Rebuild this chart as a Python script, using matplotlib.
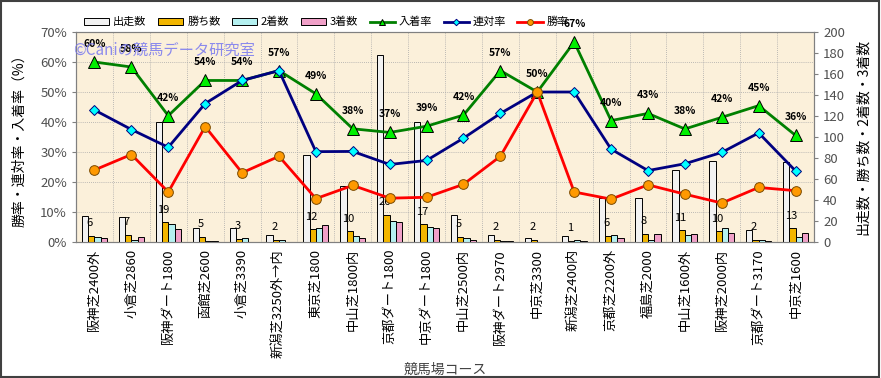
import matplotlib.pyplot as plt
import numpy as np
from matplotlib.ticker import FixedLocator

plt.rcParams['font.family'] = ['Noto Sans CJK JP', 'DejaVu Sans']

courses = ['阪神芝2400外', '小倉芝2860', '阪神ダート1800', '函館芝2600', '小倉芝3390',
           '新潟芝3250外→内', '東京芝1800', '中山芝1800内', '京都ダート1800', '中京ダート1800',
           '中山芝2500内', '阪神ダート2970', '中京芝3300', '新潟芝2400内', '京都芝2200外',
           '福島芝2000', '中山芝1600外', '阪神芝2000内', '京都ダート3170', '中京芝1600']
runs   = [25, 24, 114, 13, 13, 7, 83, 53, 178, 114, 26, 7, 4, 6, 42, 42, 69, 77, 11, 76]
wins   = [6, 7, 19, 5, 3, 2, 12, 10, 26, 17, 5, 2, 2, 1, 6, 8, 11, 10, 2, 13]
second = [5, 2, 17, 1, 4, 2, 13, 6, 20, 14, 4, 1, 0, 2, 7, 2, 7, 13, 2, 5]
third  = [4, 5, 12, 1, 0, 0, 16, 4, 19, 13, 2, 1, 0, 1, 4, 8, 8, 9, 1, 9]

runs_a = np.array(runs, float)
win_rate = np.array(wins) / runs_a * 100
ren_rate = (np.array(wins) + np.array(second)) / runs_a * 100
in_rate = (np.array(wins) + np.array(second) + np.array(third)) / runs_a * 100

fig = plt.figure(figsize=(8.81, 3.78), dpi=100)
fig.patches.append(plt.Rectangle((0.001, 0.002), 0.997, 0.995, transform=fig.transFigure,
                                 fill=False, edgecolor='#404040', linewidth=1.5))
ax = fig.add_axes([0.0863, 0.3598, 0.8377, 0.5555])
ax2 = ax.twinx()
ax.set_facecolor('#FBF0DA')

# bars (counts) on the right axis
x = np.arange(len(courses))
w = 0.17
bar_kw = dict(edgecolor='black', linewidth=0.7, zorder=3)
ax.bar(x - 1.5 * w, runs, w, color='#F2F2F2', label='出走数', **bar_kw)
ax.bar(x - 0.5 * w, wins, w, color='#F2B600', label='勝ち数', **bar_kw)
ax.bar(x + 0.5 * w, second, w, color='#B4F0F0', label='2着数', **bar_kw)
ax.bar(x + 1.5 * w, third, w, color='#F0A0C8', label='3着数', **bar_kw)
for xi, v in zip(x, wins):
    ax.annotate(str(v), (xi - 0.5 * w, v), xytext=(-1, 9), textcoords='offset points',
                ha='center', va='center', fontsize=8, zorder=4)

ax.set_xlim(-0.5, len(courses) - 0.5)
ax.set_ylim(0, 200)
ax.yaxis.tick_right()
ax.yaxis.set_label_position('right')
ax.set_yticks(np.arange(0, 201, 20))
ax.yaxis.set_minor_locator(FixedLocator(np.arange(0, 201, 200 / 7)))
ax.set_xticks(x)
ax.set_xticklabels(courses, rotation=90, fontsize=9.5, va='top')
ax.xaxis.set_minor_locator(FixedLocator(np.arange(0.5, len(courses) - 0.5, 1)))
ax.grid(which='minor', color='#A8A8A8', linestyle=(0, (1, 1.5)), linewidth=0.6, zorder=0)
ax.tick_params(axis='x', which='both', length=0, pad=5)
ax.tick_params(axis='y', which='minor', length=0)
ax.tick_params(axis='y', which='major', length=3, labelsize=9.5, labelcolor='#505050', color='#808080')
ax.set_ylabel('出走数・勝ち数・2着数・3着数', fontsize=10, rotation=90, labelpad=8)
ax.set_xlabel('競馬場コース', fontsize=10, color='#404040', labelpad=4)
for s in ax.spines.values():
    s.set_color('#808080')

# rates on the left axis
ax2.yaxis.tick_left()
ax2.yaxis.set_label_position('left')
ax2.set_ylim(0, 70)
ax2.set_yticks(np.arange(0, 71, 10))
ax2.set_yticklabels([f'{v}%' for v in range(0, 71, 10)])
ax2.tick_params(axis='y', length=3, labelsize=9.5, labelcolor='#505050', color='#808080')
ax2.set_ylabel('勝率・連対率・入着率（%）', fontsize=10, labelpad=10)
for s in ax2.spines.values():
    s.set_color('#808080')

ax2.plot(x, in_rate, color='#008000', lw=2, marker='^', ms=8, mfc='#00F000', mec='black',
         mew=0.7, label='入着率', zorder=5)
ax2.plot(x, ren_rate, color='#000080', lw=2, marker='D', ms=5.5, mfc='#00FFFF', mec='#000080',
         mew=0.7, label='連対率', zorder=5)
ax2.plot(x, win_rate, color='#FF0000', lw=2, marker='o', ms=7, mfc='#FF9900', mec='#7A4A00',
         mew=0.7, label='勝率', zorder=5)
for xi, v in zip(x, in_rate):
    ax2.annotate(f'{v:.0f}%', (xi, v), xytext=(0, 13), textcoords='offset points',
                 ha='center', va='center', fontsize=7.5, fontweight='bold', zorder=6)

ax2.text(-0.58, 64, '©Caniの競馬データ研究室', fontsize=11, color='#7878F0', alpha=0.85,
         ha='left', va='center', zorder=7)

h1, l1 = ax.get_legend_handles_labels()
h2, l2 = ax2.get_legend_handles_labels()
fig.legend(h1 + h2, l1 + l2, ncol=7, loc='center left', bbox_to_anchor=(0.09, 0.942),
           frameon=False, fontsize=8, handlelength=2.3, handleheight=0.55, markerscale=0.6,
           columnspacing=1.0, handletextpad=0.35, borderaxespad=0)

fig.savefig('out.png', dpi=100)
